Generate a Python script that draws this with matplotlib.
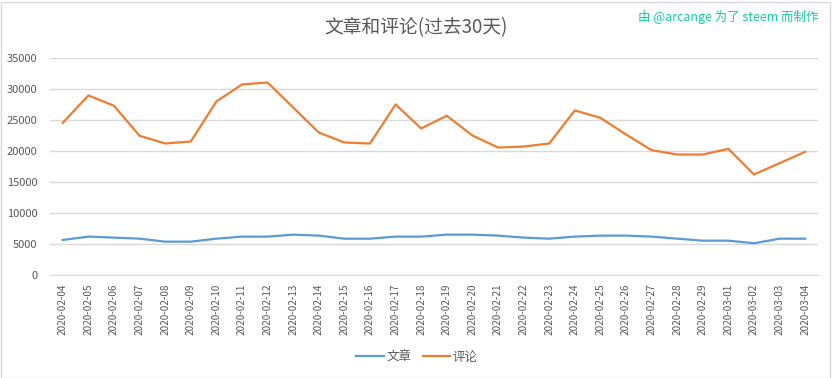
import matplotlib.pyplot as plt
from matplotlib.patches import Rectangle

plt.rcParams['font.family'] = ['Noto Sans CJK SC', 'DejaVu Sans']

dates = ['2020-02-04', '2020-02-05', '2020-02-06', '2020-02-07', '2020-02-08',
         '2020-02-09', '2020-02-10', '2020-02-11', '2020-02-12', '2020-02-13',
         '2020-02-14', '2020-02-15', '2020-02-16', '2020-02-17', '2020-02-18',
         '2020-02-19', '2020-02-20', '2020-02-21', '2020-02-22', '2020-02-23',
         '2020-02-24', '2020-02-25', '2020-02-26', '2020-02-27', '2020-02-28',
         '2020-02-29', '2020-03-01', '2020-03-02', '2020-03-03', '2020-03-04']

# 文章 (posts)
posts = [5690, 6230, 6070, 5900, 5420, 5420, 5900, 6230, 6230, 6550,
         6390, 5900, 5900, 6230, 6230, 6550, 6550, 6390, 6070, 5900,
         6230, 6390, 6390, 6230, 5900, 5580, 5580, 5160, 5900, 5900]

# 评论 (comments)
comments = [24560, 28970, 27300, 22470, 21230, 21550, 28000, 30740, 31060, 27030,
            23000, 21390, 21230, 27520, 23650, 25700, 22520, 20580, 20740, 21230,
            26550, 25370, 22680, 20160, 19450, 19450, 20370, 16230, 18060, 19890]

yticks = [0, 5000, 10000, 15000, 20000, 25000, 30000, 35000]

fig = plt.figure(figsize=(8.32, 3.78), dpi=100)
ax = fig.add_axes([50 / 832, 1 - 275.3 / 378, 768 / 832, 217.3 / 378])

x = range(len(dates))
ax.plot(x, posts, color='#5b9bd5', linewidth=1.6, label='文章')
ax.plot(x, comments, color='#ed7d31', linewidth=1.6, label='评论')

ax.set_xlim(-0.5, len(dates) - 0.5)
ax.set_ylim(0, 35000)
ax.set_yticks(yticks)
ax.set_yticklabels([str(v) for v in yticks], fontsize=8, color='#595959')
ax.set_xticks(list(x))
ax.set_xticklabels(dates, rotation=90, fontsize=7.2, color='#595959')
ax.tick_params(length=0, pad=9)
ax.tick_params(axis='x', pad=6)
ax.grid(axis='y', color='#d9d9d9', linewidth=1)
ax.set_axisbelow(True)
for side in ['left', 'right', 'top']:
    ax.spines[side].set_visible(False)
ax.spines['bottom'].set_color('#d9d9d9')

fig.text(416 / 832, 1 - 28 / 378, '文章和评论(过去30天)', ha='center', va='center',
         fontsize=13.5, color='#595959')
fig.text(818 / 832, 1 - 17 / 378, '由 @arcange 为了 steem 而制作', ha='right', va='center',
         fontsize=9, color='#12d0a0')

fig.legend(loc='center', bbox_to_anchor=(417 / 832, 1 - 357 / 378), ncol=2,
           frameon=False, fontsize=9, labelcolor='#595959',
           handlelength=2.2, columnspacing=0.9, handletextpad=0.2)

fig.patches.append(Rectangle((0.5 / 832, 0.5 / 378), 829 / 832, 376 / 378,
                             transform=fig.transFigure, fill=False,
                             edgecolor='#d9d9d9', linewidth=1))

fig.savefig('out.png', dpi=100)
